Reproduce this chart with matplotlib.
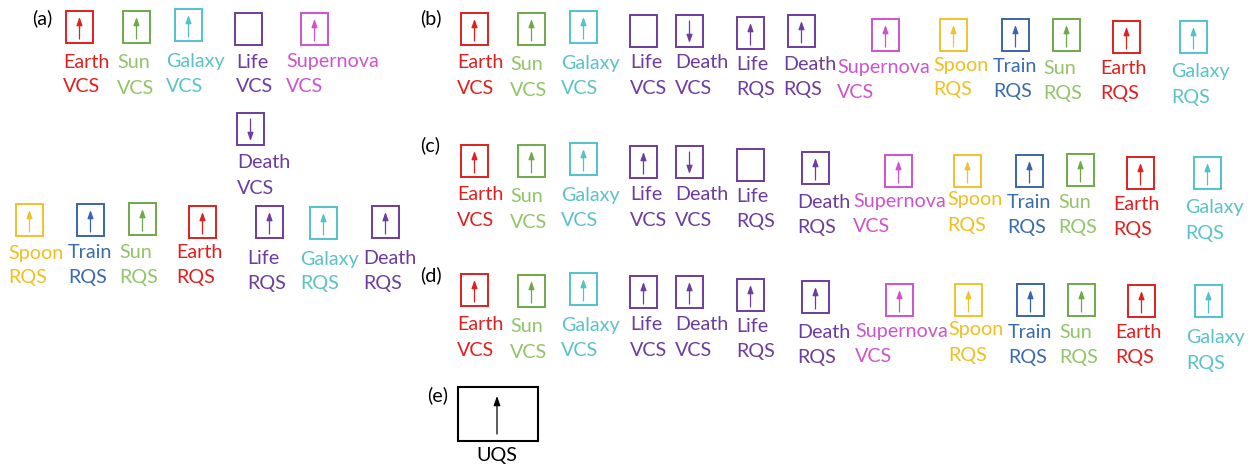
import matplotlib
matplotlib.use("Agg")
import matplotlib.pyplot as plt
from matplotlib.patches import Rectangle

plt.rcParams['font.family'] = ['Lato', 'DejaVu Sans']

# ---- data: what each box shows ----
# panel (a): top row then bottom row
a_names = ["Earth", "Sun", "Galaxy", "Life", "Supernova", "Death",
           "Spoon", "Train", "Sun", "Earth", "Life", "Galaxy", "Death"]
a_kinds = ["VCS"] * 6 + ["RQS"] * 7
a_arrows = ["up", "up", "up", "none", "up", "down",
            "up", "up", "up", "up", "up", "up", "up"]

# panels (b), (c), (d) share the same items
bcd_names = ["Earth", "Sun", "Galaxy", "Life", "Death", "Life", "Death",
             "Supernova", "Spoon", "Train", "Sun", "Earth", "Galaxy"]
bcd_kinds = ["VCS", "VCS", "VCS", "VCS", "VCS", "RQS", "RQS",
             "VCS", "RQS", "RQS", "RQS", "RQS", "RQS"]
b_arrows = ["up", "up", "up", "none", "down", "up", "up",
            "up", "up", "up", "up", "up", "up"]
c_arrows = ["up", "up", "up", "up", "down", "none", "up",
            "up", "up", "up", "up", "up", "up"]
d_arrows = ["up"] * 13

e_names = ["UQS"]

# colours per object: (box, text)
colors = {
    "Earth": ("#E0201F", "#E0201F"),
    "Sun": ("#6FA84A", "#92C46A"),
    "Galaxy": ("#4FC3CC", "#5BC2C8"),
    "Life": ("#6E3C9E", "#6E3C9E"),
    "Death": ("#6E3C9E", "#6E3C9E"),
    "Supernova": ("#D050D0", "#CC55CC"),
    "Spoon": ("#F2C12E", "#EEC020"),
    "Train": ("#3C64A8", "#3A6AB0"),
}

# ---- layout (pixel coords, y down) ----
BW, BH = 27, 32
a_box = [(66, 11), (123, 11), (175, 9), (235, 13), (301, 13), (237, 113),
         (16, 204), (77, 204), (129, 203), (189, 206), (256, 206), (310, 207), (372, 206)]
a_lab = [(63, 62), (117, 63), (166, 62), (236, 62), (286, 62), (237, 163),
         (8, 253), (68, 252), (119, 252), (176, 253), (247, 258), (300, 259), (363, 258)]

b_box = [(461, 13), (518, 13), (570, 11), (630, 15), (676, 15), (737, 17), (788, 15),
         (872, 19), (940, 19), (1002, 19), (1053, 19), (1113, 21), (1180, 21)]
b_lab = [(457, 63), (510, 65), (561, 63), (630, 63), (675, 63), (736, 65), (783, 65),
         (837, 67), (933, 65), (993, 67), (1043, 68), (1100, 68), (1171, 72)]

c_box = [(461, 145), (518, 145), (570, 143), (630, 146), (676, 146), (737, 149), (802, 152),
         (885, 155), (954, 155), (1016, 155), (1067, 154), (1127, 157), (1194, 157)]
c_lab = [(457, 195), (510, 197), (561, 195), (630, 195), (675, 195), (736, 197), (797, 202),
         (853, 202), (947, 200), (1007, 202), (1058, 203), (1113, 204), (1185, 208)]

d_box = [(461, 274), (518, 275), (570, 273), (630, 276), (676, 276), (737, 279), (802, 281),
         (886, 284), (955, 284), (1017, 284), (1068, 284), (1128, 285), (1195, 285)]
d_lab = [(457, 325), (510, 327), (561, 325), (630, 325), (675, 325), (736, 327), (797, 332),
         (855, 332), (948, 330), (1008, 332), (1059, 333), (1115, 333), (1186, 338)]

panel_tags = [("(a)", 32, 18), ("(b)", 420, 18), ("(c)", 420, 145),
              ("(d)", 420, 275), ("(e)", 427, 395)]

FS = 14.2


def draw_item(ax, name, kind, arrow, box, lab):
    box_c, txt_c = colors[name]
    x0, y0 = box
    ax.add_patch(Rectangle((x0, y0), BW, BH, fill=False, edgecolor=box_c, linewidth=1.4))
    cx = x0 + BW / 2
    if arrow != "none":
        lo, hi = y0 + BH - 4, y0 + 6
        start, end = (lo, hi) if arrow == "up" else (hi, lo)
        ax.annotate("", xy=(cx, end), xytext=(cx, start),
                    arrowprops=dict(arrowstyle="-|>,head_length=0.7,head_width=0.25",
                                    color=box_c, lw=0.9, mutation_scale=7,
                                    shrinkA=0, shrinkB=0))
    lx, ly = lab
    ax.text(lx, ly, name, color=txt_c, fontsize=FS, ha="left", va="center")
    ax.text(lx, ly + 25, kind, color=txt_c, fontsize=FS, ha="left", va="center")


def main():
    fig = plt.figure(figsize=(12.54, 4.66), dpi=100)
    ax = fig.add_axes([0, 0, 1, 1])
    ax.set_xlim(0, 1254)
    ax.set_ylim(466, 0)
    ax.axis("off")

    for i in range(len(a_names)):
        draw_item(ax, a_names[i], a_kinds[i], a_arrows[i], a_box[i], a_lab[i])
    for arrows, boxes, labs in [(b_arrows, b_box, b_lab),
                                (c_arrows, c_box, c_lab),
                                (d_arrows, d_box, d_lab)]:
        for i in range(len(bcd_names)):
            draw_item(ax, bcd_names[i], bcd_kinds[i], arrows[i], boxes[i], labs[i])

    # panel (e): single large box
    ax.add_patch(Rectangle((458, 387), 80, 54, fill=False, edgecolor="black", linewidth=1.5))
    ax.annotate("", xy=(497, 396), xytext=(497, 434),
                arrowprops=dict(arrowstyle="-|>,head_length=0.7,head_width=0.25",
                                color="black", lw=0.9, mutation_scale=8,
                                shrinkA=0, shrinkB=0))
    ax.text(497, 456, e_names[0], color="black", fontsize=FS, ha="center", va="center")

    for tag, x, y in panel_tags:
        ax.text(x, y, tag, color="black", fontsize=FS, ha="left", va="center")

    fig.savefig("out.png", dpi=100)


if __name__ == "__main__":
    main()
